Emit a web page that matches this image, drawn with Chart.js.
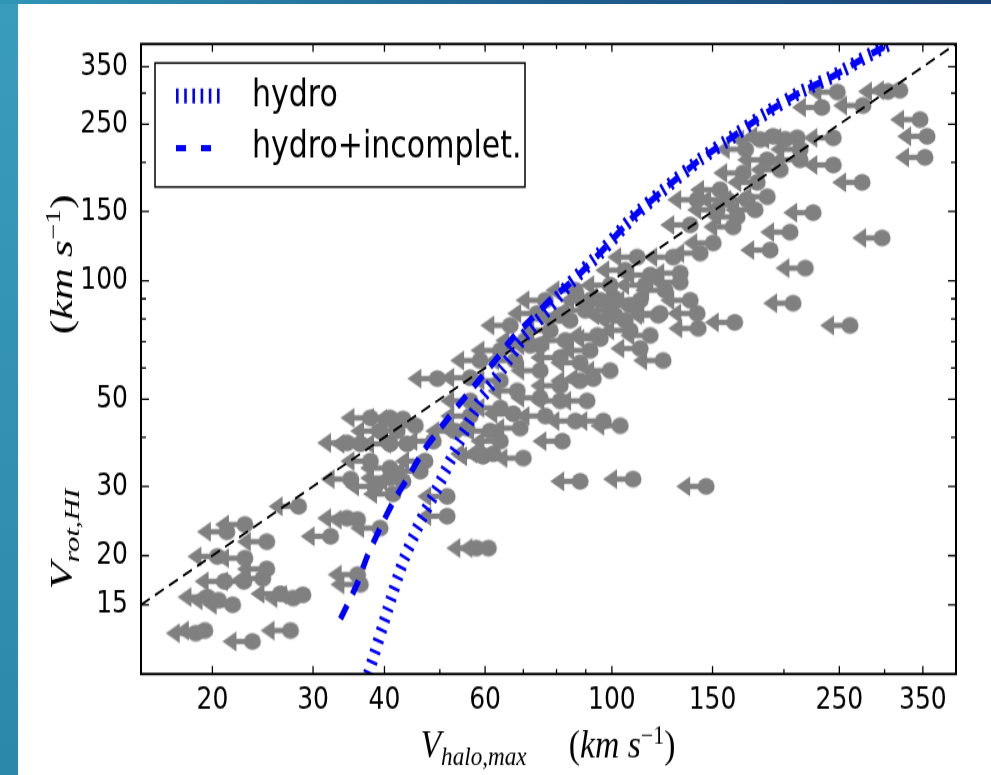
<!DOCTYPE html>
<html>
<head>
<meta charset="utf-8">
<script src="https://cdn.jsdelivr.net/npm/chart.js@4.4.1/dist/chart.umd.min.js"></script>
<style>
  html, body { margin: 0; padding: 0; }
  body { width: 991px; height: 775px; overflow: hidden; position: relative;
         background: linear-gradient(180deg, #3a9cbc 0%, #2c88aa 100%); }
  #topbar { position: absolute; left: 0; top: 0; width: 991px; height: 4px;
            background: linear-gradient(90deg, #2f96b5 0%, #1f5f8f 55%, #1b4576 100%); }
  #panel { position: absolute; left: 18px; top: 4px; right: 0; bottom: 0; background: #fff; }
  #c { position: absolute; left: 0; top: 0; }
</style>
</head>
<body>
<div id="topbar"></div>
<div id="panel"></div>
<canvas id="c"></canvas>
<script>
// the figure is taller than wide in pixels: draw squeezed, stretch back with css
const SY = 1.25;
const W = 991, H = Math.round(775 / SY);

// galaxies (upper limits, arrows point left): halo Vmax vs HI rotation velocity, km/s
const vHalo = [18.7, 19.4, 23.5, 27.4, 19.6, 20.5, 21.7, 26.3, 27.7, 28.8,
  22.7, 24.5, 24.9, 20.4, 22.8, 24.9, 21.2, 22.8, 28.3, 32.2,
  36.3, 35.9, 34.4, 35.9, 21.0, 37.8, 40.9, 43.1, 42.1, 34.4,
  36.3, 40.9, 43.8, 48.7, 37.8, 40.9, 34.9, 40.9, 43.1, 41.4,
  51.5, 51.5, 39.3, 47.1, 59.5, 55.8, 62.0, 49.5, 56.5, 67.2,
  69.1, 58.8, 70.0, 81.9, 90.5, 88.0, 92.8, 81.2, 88.0, 94.3,
  103.4, 96.6, 88.0, 108.9, 121.5, 122.9, 100.5, 68.3, 63.8, 56.5,
  61.2, 74.9, 74.0, 78.0, 70.5, 84.5, 63.8, 58.8, 74.9, 207.5,
  261, 164, 141, 141.6, 131.7, 120.5, 112.1, 112.1, 95.4, 146.2,
  319, 304, 248, 275, 233, 211, 213.5, 244, 213.5, 201,
  191.5, 346, 356, 353, 244, 274, 225, 205, 297, 218,
  187, 165.6, 152.8, 163, 150.4, 142.7, 128, 131.7, 110.7, 169.7,
  179.6, 186.9, 172.4, 159.1, 141, 116.7, 137.1, 105.5, 99.3, 123.9,
  91.6, 99.3, 105.5, 86.3, 107.6, 114.3, 66.4, 72.0, 57.9, 60.8,
  76.5, 81.2, 89.8, 95.4, 101.3, 74.9, 82.9, 91.6, 99.3, 81.2,
  76.5, 86.3, 63.8, 67.7, 107.6, 116.7, 56.5, 53.2, 63.8, 81.2,
  39.3, 45.3, 46.2, 38.5, 181.7, 171.4, 197, 178.1, 154.6, 137.1, 189.2];
const vRot = [12.7, 12.9, 12.1, 12.9, 15.7, 15.4, 15.0, 16.0, 15.6, 15.9,
  17.2, 17.5, 18.5, 19.9, 19.7, 21.7, 23.0, 24.0, 26.7, 22.4,
  16.9, 17.9, 24.9, 24.7, 17.2, 44.8, 44.8, 44.5, 41.5, 38.7,
  38.5, 38.5, 38.5, 39.1, 34.8, 33.4, 31.3, 31.5, 30.9, 28.7,
  28.3, 25.2, 23.5, 34.8, 35.8, 42.2, 36.3, 56.4, 56.7, 45.9,
  42.2, 36.3, 35.4, 39.1, 49.5, 55.7, 56.4, 63.8, 61.9, 72.6,
  42.8, 44.0, 30.9, 31.3, 82.6, 62.7, 90.8, 52.5, 47.5, 49.5,
  41.5, 50.4, 82.6, 74.8, 70.5, 79.3, 66.5, 62.7, 59.1, 87.7,
  77.0, 78.4, 82.6, 75.7, 99.2, 81.7, 89.2, 67.3, 71.3, 30.0,
  305, 303, 302, 279, 276, 231, 216, 231, 203, 229,
  233, 257, 233, 206, 197, 178, 149, 133, 128.5, 107.7,
  163.6, 145.4, 151.5, 137.1, 124.8, 117.6, 114.9, 104.6, 114.9, 188,
  178, 203, 160.7, 160.7, 160.7, 103.4, 89.2, 106.4, 97.5, 94.6,
  89.2, 84.1, 79.3, 94.6, 86.6, 97.5, 77.0, 68.5, 20.9, 20.9,
  89.2, 81.7, 84.1, 89.2, 81.7, 68.5, 70.5, 66.5, 59.1, 54.1,
  45.3, 44.0, 55.7, 62.7, 74.8, 72.6, 45.3, 41.5, 39.1, 49.5,
  41.5, 42.8, 32.8, 30.0, 228.7, 216, 191.7, 151.5, 170.4, 138.7, 119.7];

// model curves
const hydroX = [37.5, 40.6, 43.1, 46.2, 49.5, 52.8, 58.8, 64.5, 70.0, 77.0, 84.5,
  95.4, 109, 125, 142.7, 163, 186.9, 213.5, 243.9, 279.7, 310.6];
const hydroY = [10.0, 14.7, 19.3, 24.4, 29.7, 36.3, 49.5, 60.1, 71.8, 84.1, 98.6,
  117.7, 145.4, 173.5, 203.4, 232.8, 268.1, 301.6, 331.4, 372.7, 404.7];
const incX = [33.5, 35.8, 37.3, 39.3, 41.5, 43.9, 46.8, 50.3, 53.8, 58.1, 62.5, 67.2,
  72.8, 78.9, 84.5, 95.4, 109, 125, 142.7, 163, 186.9, 213.5, 243.9, 279.7, 310.6];
const incY = [13.8, 16.9, 19.9, 23.5, 27.5, 31.5, 36.9, 42.5, 48.1, 55.1, 62.7, 71.8,
  80.7, 90.8, 98.6, 117.7, 145.4, 173.5, 203.4, 232.8, 268.1, 301.6, 331.4, 372.7, 404.7];
const lineX = [15, 400];
const lineY = [15, 400];

const xTicks = [20, 30, 40, 50, 60, 70, 80, 90, 100, 150, 200, 250, 300, 350];
const xLabels = [20, 30, 40, 60, 100, 150, 250, 350];
const yTicks = [15, 20, 30, 40, 50, 60, 70, 80, 90, 100, 150, 200, 250, 300, 350];
const yLabels = [15, 20, 30, 50, 100, 150, 250, 350];

const pts = (xs, ys) => xs.map((v, i) => ({ x: v, y: ys[i] }));

// grey dot with a left arrow (upper limit marker)
function arrowMark() {
  const c = document.createElement('canvas');
  c.width = 70; c.height = 24;
  const g = c.getContext('2d');
  const cx = 35, cy = 12;
  g.fillStyle = g.strokeStyle = '#808080';
  g.beginPath();
  g.ellipse(cx, cy, 8.5, 8.5 / SY, 0, 0, Math.PI * 2);
  g.fill();
  g.lineWidth = 5.5 / SY;
  g.beginPath(); g.moveTo(cx, cy); g.lineTo(cx - 20, cy); g.stroke();
  g.beginPath();
  g.moveTo(cx - 30, cy);
  g.lineTo(cx - 16, cy - 10 / SY);
  g.lineTo(cx - 16, cy + 10 / SY);
  g.closePath(); g.fill();
  return c;
}

// box, inward ticks on all four sides
const frame = {
  id: 'frame',
  afterDatasetsDraw(chart) {
    const { ctx, chartArea: a, scales: { x, y } } = chart;
    ctx.save();
    ctx.strokeStyle = '#000';
    ctx.lineWidth = 1.3;
    ctx.beginPath();
    xTicks.forEach(v => {
      const px = x.getPixelForValue(v);
      const len = (xLabels.includes(v) ? 8 : 5) / SY;
      ctx.moveTo(px, a.bottom); ctx.lineTo(px, a.bottom - len);
      ctx.moveTo(px, a.top); ctx.lineTo(px, a.top + len);
    });
    yTicks.forEach(v => {
      const py = y.getPixelForValue(v);
      const len = yLabels.includes(v) ? 8 : 5;
      ctx.moveTo(a.left, py); ctx.lineTo(a.left + len, py);
      ctx.moveTo(a.right, py); ctx.lineTo(a.right - len, py);
    });
    ctx.stroke();
    ctx.lineWidth = 2;
    ctx.strokeRect(a.left, a.top, a.right - a.left, a.bottom - a.top);
    ctx.restore();
  }
};

// legend box in the upper left corner
const legendBox = {
  id: 'legendBox',
  afterDraw(chart) {
    const ctx = chart.ctx;
    const ds = chart.data.datasets;
    ctx.save();
    ctx.fillStyle = '#fff';
    ctx.fillRect(155, 63 / SY, 370, 124 / SY);
    ctx.strokeStyle = '#000';
    ctx.lineWidth = 1.5;
    ctx.strokeRect(155, 63 / SY, 370, 124 / SY);
    const rows = [[ds[1], 96 / SY], [ds[0], 148 / SY]];
    rows.forEach(([d, ry]) => {
      const hydro = d.label === 'hydro';
      ctx.strokeStyle = d.borderColor;
      ctx.lineWidth = hydro ? 12 : 5;
      ctx.setLineDash(hydro ? [2.6, 5.6] : [10, 15]);
      ctx.lineCap = 'butt';
      ctx.beginPath(); ctx.moveTo(176, ry); ctx.lineTo(hydro ? 220 : 212, ry); ctx.stroke();
      ctx.setLineDash([]);
      ctx.fillStyle = '#000';
      ctx.font = '30px "DejaVu Sans"';
      ctx.textBaseline = 'middle';
      ctx.fillText(d.label, 252, ry);
    });
    ctx.restore();
  }
};

// math style axis titles: [text, size, italic, shift]
function rich(ctx, parts, cx, base, target) {
  let w = 0;
  parts.forEach(p => {
    ctx.font = (p[2] ? 'italic ' : '') + p[1] + 'px "Liberation Serif"';
    p.w = ctx.measureText(p[0]).width;
    w += p.w;
  });
  ctx.save();
  ctx.translate(cx, base);
  ctx.scale(target / w, 1);
  let x = -w / 2;
  parts.forEach(p => {
    ctx.font = (p[2] ? 'italic ' : '') + p[1] + 'px "Liberation Serif"';
    ctx.fillText(p[0], x, p[3]);
    x += p.w;
  });
  ctx.restore();
}

const titles = {
  id: 'titles',
  afterDraw(chart) {
    const ctx = chart.ctx;
    ctx.save();
    ctx.fillStyle = '#000';
    ctx.textBaseline = 'alphabetic';
    rich(ctx, [['V', 32, true, 0], ['halo,max', 22, true, 6], ['     ', 32, false, 0],
      ['(', 32, false, 0], ['km', 32, true, 0], [' ', 32, false, 0], ['s', 32, true, 0],
      ['\u22121', 21, false, -11], [')', 32, false, 0]], 548, 757 / SY, 255);
    ctx.translate(72, 392 / SY);
    ctx.rotate(-Math.PI / 2);
    rich(ctx, [['V', 32, true, 0], ['rot,HI', 22, true, 7], ['              ', 32, false, 0],
      ['(', 32, false, 0], ['km', 32, true, 0], [' ', 32, false, 0], ['s', 32, true, 0],
      ['\u22121', 21, false, -12], [')', 32, false, 0]], 0, 0, 395 / SY);
    ctx.restore();
  }
};

const canvas = document.getElementById('c');
canvas.width = W;
canvas.height = H;
canvas.style.width = W + 'px';
canvas.style.height = '775px';

const tickFont = { family: 'DejaVu Sans', size: 25 };

new Chart(canvas, {
  type: 'scatter',
  data: {
    datasets: [
      { label: 'hydro+incomplet.', data: pts(incX, incY), showLine: true, borderColor: '#0000ff',
        borderWidth: 5.5, borderDash: [13, 10], borderCapStyle: 'butt', pointRadius: 0, tension: 0.2, clip: 0 },
      { label: 'hydro', data: pts(hydroX, hydroY), showLine: true, borderColor: '#0000ff',
        borderWidth: 11, borderDash: [2.6, 6.4], borderCapStyle: 'butt', pointRadius: 0, tension: 0.2, clip: 0 },
      { label: 'one to one', data: pts(lineX, lineY), showLine: true, borderColor: '#000',
        borderWidth: 1.9, borderDash: [10, 6], pointRadius: 0, clip: 0 },
      { label: 'galaxies', data: pts(vHalo, vRot), pointStyle: arrowMark(), pointRadius: 9 }
    ]
  },
  options: {
    responsive: false,
    devicePixelRatio: 1,
    animation: false,
    events: [],
    layout: { padding: { left: 0, right: 35, top: 44 / SY, bottom: 0 } },
    plugins: { legend: { display: false }, tooltip: { enabled: false } },
    scales: {
      x: {
        type: 'logarithmic', min: 15, max: 400,
        afterBuildTicks: s => { s.ticks = xTicks.map(v => ({ value: v })); },
        afterFit: s => { s.height = H - 674 / SY; },
        grid: { display: false, drawTicks: false },
        border: { display: false },
        ticks: { autoSkip: false, maxRotation: 0, padding: 6, color: '#000', font: tickFont,
                 callback: v => xLabels.includes(v) ? String(v) : '' }
      },
      y: {
        type: 'logarithmic', min: 10, max: 400,
        afterBuildTicks: s => { s.ticks = yTicks.map(v => ({ value: v })); },
        afterFit: s => { s.width = 141; },
        grid: { display: false, drawTicks: false },
        border: { display: false },
        ticks: { autoSkip: false, padding: 13, color: '#000', font: tickFont,
                 callback: v => yLabels.includes(v) ? String(v) : '' }
      }
    }
  },
  plugins: [frame, legendBox, titles]
});
</script>
</body>
</html>
